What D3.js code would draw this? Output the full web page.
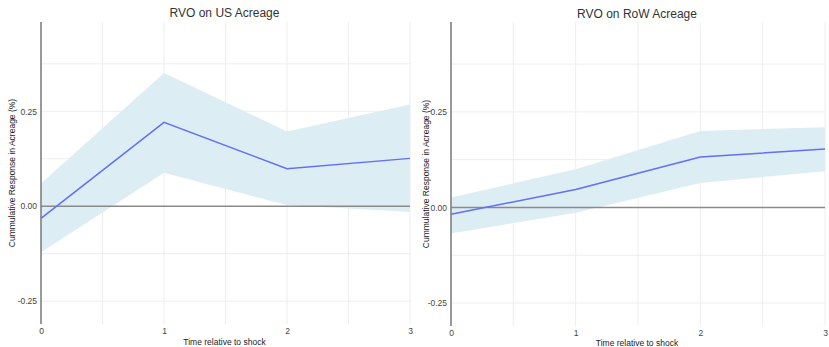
<!DOCTYPE html>
<html>
<head>
<meta charset="utf-8">
<script src="https://cdn.jsdelivr.net/npm/d3@7"></script>
<style>
body { margin: 0; background: #fff; }
svg { display: block; font-family: "Liberation Sans", Arial, sans-serif; }
</style>
</head>
<body>
<svg id="chart" width="829" height="347"></svg>
<script>
// ---- data ----
const periods = [0, 1, 2, 3];
const xTicks = [0, 1, 2, 3];
const yTicks = [-0.25, 0, 0.25];
const yTickLabels = ["-0.25", "0.00", "0.25"];

const usTitle = "RVO on US Acreage";
const usEstimate = [-0.032, 0.221, 0.099, 0.126];
const usUpper = [0.060, 0.351, 0.197, 0.268];
const usLower = [-0.121, 0.088, 0.003, -0.015];

const rowTitle = "RVO on RoW Acreage";
const rowEstimate = [-0.018, 0.047, 0.132, 0.153];
const rowUpper = [0.026, 0.100, 0.200, 0.210];
const rowLower = [-0.068, -0.014, 0.064, 0.095];

const xTitle = "Time relative to shock";
const yTitle = "Cummulative Response in Acreage (%)";

// ---- drawing ----
const svg = d3.select("#chart");

const panels = [
  { title: usTitle, est: usEstimate, up: usUpper, lo: usLower,
    x0: 41, x1: 410, y0: 22, y1: 324, yTitleX: 12, titleY: 16.5, xTitleY: 345 },
  { title: rowTitle, est: rowEstimate, up: rowUpper, lo: rowLower,
    x0: 451, x1: 825, y0: 22, y1: 326, yTitleX: 426, titleY: 18, xTitleY: 346 }
];

panels.forEach(p => {
  const x = d3.scaleLinear().domain([0, 3]).range([p.x0, p.x1]);
  const y = d3.scaleLinear().domain([-0.31, 0.485]).range([p.y1, p.y0]);
  const g = svg.append("g");

  // grid
  const xGrid = d3.range(0, 3.01, 0.5);
  g.selectAll(".vg").data(xGrid).join("line")
    .attr("x1", d => x(d)).attr("x2", d => x(d))
    .attr("y1", p.y0).attr("y2", p.y1)
    .attr("stroke", "#eeeeee").attr("stroke-width", 1);
  const yGrid = [-0.25, -0.125, 0.125, 0.25, 0.375];
  g.selectAll(".hg").data(yGrid).join("line")
    .attr("x1", p.x0).attr("x2", p.x1)
    .attr("y1", d => y(d)).attr("y2", d => y(d))
    .attr("stroke", "#eeeeee").attr("stroke-width", 1);

  // ribbon
  const data = periods.map((t, i) => ({ t, e: p.est[i], u: p.up[i], l: p.lo[i] }));
  const area = d3.area().x(d => x(d.t)).y0(d => y(d.l)).y1(d => y(d.u));
  g.append("path").datum(data).attr("d", area)
    .attr("fill", "rgb(221,237,244)");

  // zero line
  g.append("line")
    .attr("x1", p.x0).attr("x2", p.x1)
    .attr("y1", y(0)).attr("y2", y(0))
    .attr("stroke", "#8a8a8a").attr("stroke-width", 1.5);

  // estimate line
  const line = d3.line().x(d => x(d.t)).y(d => y(d.e));
  g.append("path").datum(data).attr("d", line)
    .attr("fill", "none").attr("stroke", "#636efa").attr("stroke-width", 1.5);

  // y axis line
  g.append("line")
    .attr("x1", p.x0).attr("x2", p.x0)
    .attr("y1", p.y0).attr("y2", p.y1)
    .attr("stroke", "#7a7a7a").attr("stroke-width", 1.5);

  // y axis ticks
  const yAxis = d3.axisLeft(y).tickValues(yTicks).tickSize(0).tickPadding(4)
    .tickFormat((d, i) => yTickLabels[i]);
  const ya = g.append("g").attr("transform", `translate(${p.x0},0)`).call(yAxis);
  ya.select(".domain").remove();
  ya.selectAll("text").attr("fill", "#444").style("font-size", "8.5px")
    .style("font-family", "Liberation Sans, Arial, sans-serif");

  // x axis ticks
  const xAxis = d3.axisBottom(x).tickValues(xTicks).tickSize(0).tickPadding(4)
    .tickFormat(d3.format("d"));
  const xa = g.append("g").attr("transform", `translate(0,${p.y1})`).call(xAxis);
  xa.select(".domain").remove();
  xa.selectAll("text").attr("fill", "#444").style("font-size", "8.5px")
    .style("font-family", "Liberation Sans, Arial, sans-serif");

  // titles
  const cx = (p.x0 + p.x1) / 2;
  g.append("text").attr("x", cx - 1).attr("y", p.titleY)
    .attr("text-anchor", "middle").attr("fill", "#333")
    .style("font-size", "12px").text(p.title);
  g.append("text").attr("x", cx - 1).attr("y", p.xTitleY)
    .attr("text-anchor", "middle").attr("fill", "#222")
    .style("font-size", "8.5px").text(xTitle);
  g.append("text")
    .attr("transform", `translate(${p.yTitleX + 3},${(p.y0 + p.y1) / 2}) rotate(-90)`)
    .attr("text-anchor", "middle").attr("fill", "#222")
    .style("font-size", "8.5px").text(yTitle);
});
</script>
</body>
</html>
